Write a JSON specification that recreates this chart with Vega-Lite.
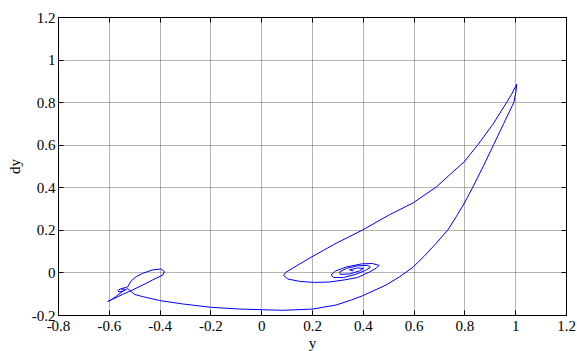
{
  "$schema": "https://vega.github.io/schema/vega-lite/v6.json",
  "width": 508,
  "height": 298,
  "autosize": {"type": "none"},
  "padding": {"left": 58, "top": 17, "right": 11, "bottom": 36},
  "background": "white",
  "config": {
    "view": {"stroke": "black", "strokeWidth": 1},
    "font": "Liberation Serif",
    "axis": {
      "domainColor": "black",
      "tickColor": "black",
      "tickSize": -5,
      "labelColor": "black",
      "titleColor": "black",
      "labelFont": "Liberation Serif",
      "titleFont": "Liberation Serif",
      "labelFontSize": 15,
      "titleFontSize": 15,
      "titleFontWeight": "normal",
      "gridColor": "#444444",
      "gridDash": [1, 1],
      "gridOpacity": 0.8,
      "gridWidth": 1
    }
  },
  "data": {
    "values": [
      {"i": 1, "y": -0.551, "dy": -0.082},
      {"i": 2, "y": -0.544, "dy": -0.078},
      {"i": 3, "y": -0.536, "dy": -0.080},
      {"i": 4, "y": -0.546, "dy": -0.089},
      {"i": 5, "y": -0.560, "dy": -0.092},
      {"i": 6, "y": -0.564, "dy": -0.085},
      {"i": 7, "y": -0.554, "dy": -0.077},
      {"i": 8, "y": -0.538, "dy": -0.072},
      {"i": 9, "y": -0.525, "dy": -0.067},
      {"i": 10, "y": -0.512, "dy": -0.040},
      {"i": 11, "y": -0.492, "dy": -0.020},
      {"i": 12, "y": -0.466, "dy": -0.004},
      {"i": 13, "y": -0.427, "dy": 0.012},
      {"i": 14, "y": -0.394, "dy": 0.016},
      {"i": 15, "y": -0.381, "dy": 0.004},
      {"i": 16, "y": -0.387, "dy": -0.012},
      {"i": 17, "y": -0.427, "dy": -0.035},
      {"i": 18, "y": -0.466, "dy": -0.059},
      {"i": 19, "y": -0.506, "dy": -0.082},
      {"i": 20, "y": -0.545, "dy": -0.103},
      {"i": 21, "y": -0.584, "dy": -0.125},
      {"i": 22, "y": -0.604, "dy": -0.136},
      {"i": 23, "y": -0.593, "dy": -0.131},
      {"i": 24, "y": -0.571, "dy": -0.112},
      {"i": 25, "y": -0.545, "dy": -0.089},
      {"i": 26, "y": -0.526, "dy": -0.075},
      {"i": 27, "y": -0.513, "dy": -0.089},
      {"i": 28, "y": -0.499, "dy": -0.103},
      {"i": 29, "y": -0.466, "dy": -0.114},
      {"i": 30, "y": -0.400, "dy": -0.132},
      {"i": 31, "y": -0.310, "dy": -0.148},
      {"i": 32, "y": -0.197, "dy": -0.164},
      {"i": 33, "y": -0.085, "dy": -0.172},
      {"i": 34, "y": 0.000, "dy": -0.175},
      {"i": 35, "y": 0.085, "dy": -0.178},
      {"i": 36, "y": 0.203, "dy": -0.172},
      {"i": 37, "y": 0.295, "dy": -0.153},
      {"i": 38, "y": 0.356, "dy": -0.129},
      {"i": 39, "y": 0.400, "dy": -0.109},
      {"i": 40, "y": 0.492, "dy": -0.059},
      {"i": 41, "y": 0.544, "dy": -0.021},
      {"i": 42, "y": 0.597, "dy": 0.024},
      {"i": 43, "y": 0.643, "dy": 0.078},
      {"i": 44, "y": 0.689, "dy": 0.137},
      {"i": 45, "y": 0.735, "dy": 0.200},
      {"i": 46, "y": 0.768, "dy": 0.262},
      {"i": 47, "y": 0.800, "dy": 0.326},
      {"i": 48, "y": 0.833, "dy": 0.400},
      {"i": 49, "y": 0.875, "dy": 0.500},
      {"i": 50, "y": 0.915, "dy": 0.600},
      {"i": 51, "y": 0.955, "dy": 0.700},
      {"i": 52, "y": 0.995, "dy": 0.800},
      {"i": 53, "y": 1.003, "dy": 0.850},
      {"i": 54, "y": 1.006, "dy": 0.884},
      {"i": 55, "y": 0.985, "dy": 0.835},
      {"i": 56, "y": 0.967, "dy": 0.800},
      {"i": 57, "y": 0.911, "dy": 0.694},
      {"i": 58, "y": 0.853, "dy": 0.600},
      {"i": 59, "y": 0.798, "dy": 0.518},
      {"i": 60, "y": 0.745, "dy": 0.462},
      {"i": 61, "y": 0.689, "dy": 0.401},
      {"i": 62, "y": 0.597, "dy": 0.326},
      {"i": 63, "y": 0.505, "dy": 0.271},
      {"i": 64, "y": 0.400, "dy": 0.200},
      {"i": 65, "y": 0.295, "dy": 0.137},
      {"i": 66, "y": 0.190, "dy": 0.067},
      {"i": 67, "y": 0.124, "dy": 0.020},
      {"i": 68, "y": 0.096, "dy": 0.000},
      {"i": 69, "y": 0.088, "dy": -0.014},
      {"i": 70, "y": 0.105, "dy": -0.031},
      {"i": 71, "y": 0.151, "dy": -0.042},
      {"i": 72, "y": 0.210, "dy": -0.047},
      {"i": 73, "y": 0.269, "dy": -0.045},
      {"i": 74, "y": 0.328, "dy": -0.035},
      {"i": 75, "y": 0.379, "dy": -0.024},
      {"i": 76, "y": 0.426, "dy": 0.002},
      {"i": 77, "y": 0.454, "dy": 0.021},
      {"i": 78, "y": 0.464, "dy": 0.033},
      {"i": 79, "y": 0.438, "dy": 0.042},
      {"i": 80, "y": 0.395, "dy": 0.040},
      {"i": 81, "y": 0.336, "dy": 0.026},
      {"i": 82, "y": 0.293, "dy": 0.007},
      {"i": 83, "y": 0.275, "dy": -0.012},
      {"i": 84, "y": 0.285, "dy": -0.024},
      {"i": 85, "y": 0.324, "dy": -0.024},
      {"i": 86, "y": 0.371, "dy": -0.009},
      {"i": 87, "y": 0.410, "dy": 0.009},
      {"i": 88, "y": 0.430, "dy": 0.024},
      {"i": 89, "y": 0.419, "dy": 0.033},
      {"i": 90, "y": 0.379, "dy": 0.031},
      {"i": 91, "y": 0.336, "dy": 0.019},
      {"i": 92, "y": 0.308, "dy": 0.002},
      {"i": 93, "y": 0.312, "dy": -0.009},
      {"i": 94, "y": 0.348, "dy": -0.007},
      {"i": 95, "y": 0.387, "dy": 0.007},
      {"i": 96, "y": 0.403, "dy": 0.019},
      {"i": 97, "y": 0.379, "dy": 0.021},
      {"i": 98, "y": 0.348, "dy": 0.012},
      {"i": 99, "y": 0.363, "dy": 0.007}
    ]
  },
  "layer": [
    {
      "mark": {"type": "line", "color": "#0000ff", "strokeWidth": 1, "clip": true},
      "encoding": {
        "x": {
          "field": "y", "type": "quantitative",
          "scale": {"domain": [-0.8, 1.2], "nice": false, "zero": false},
          "axis": {"title": "y", "values": [-0.8, -0.6, -0.4, -0.2, 0, 0.2, 0.4, 0.6, 0.8, 1, 1.2], "labelExpr": "'' + datum.value", "labelPadding": 8, "titlePadding": 2, "labelFlush": false}
        },
        "y": {
          "field": "dy", "type": "quantitative",
          "scale": {"domain": [-0.2, 1.2], "nice": false, "zero": false},
          "axis": {"title": "dy", "values": [-0.2, 0, 0.2, 0.4, 0.6, 0.8, 1, 1.2], "labelExpr": "'' + datum.value", "labelPadding": 8, "titlePadding": 9, "labelFlush": false}
        },
        "order": {"field": "i", "type": "quantitative"}
      }
    },
    {
      "mark": {"type": "line", "opacity": 0},
      "encoding": {
        "x": {
          "field": "y", "type": "quantitative",
          "scale": {"domain": [-0.8, 1.2], "nice": false, "zero": false},
          "axis": {"orient": "top", "title": null, "labels": false, "grid": false, "values": [-0.8, -0.6, -0.4, -0.2, 0, 0.2, 0.4, 0.6, 0.8, 1, 1.2]}
        },
        "y": {
          "field": "dy", "type": "quantitative",
          "scale": {"domain": [-0.2, 1.2], "nice": false, "zero": false},
          "axis": {"orient": "right", "title": null, "labels": false, "grid": false, "values": [-0.2, 0, 0.2, 0.4, 0.6, 0.8, 1, 1.2]}
        },
        "order": {"field": "i", "type": "quantitative"}
      }
    }
  ],
  "resolve": {"axis": {"x": "independent", "y": "independent"}}
}
